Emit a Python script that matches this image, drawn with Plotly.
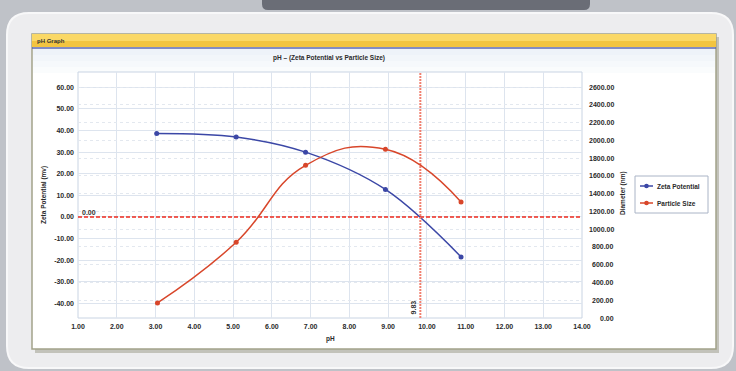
import plotly.graph_objects as go

# ---- data ----
ph_zeta = [3.03, 5.08, 6.87, 8.93, 10.88]
zeta_mv = [38.6, 37.0, 30.0, 12.7, -18.5]
ph_size = [3.05, 5.08, 6.87, 8.93, 10.88]
size_nm = [169, 852, 1719, 1899, 1306]
x_ticks = [1, 2, 3, 4, 5, 6, 7, 8, 9, 10, 11, 12, 13, 14]
left_ticks = [60, 50, 40, 30, 20, 10, 0, -10, -20, -30, -40]
right_ticks = [0, 200, 400, 600, 800, 1000, 1200, 1400, 1600, 1800, 2000, 2200, 2400, 2600]
series_names = ["Zeta Potential", "Particle Size"]
iep_ph = 9.83
zero_line = 0.0

W, H = 736, 371
L, R, T, B = 78, 582, 72, 318
Y1_RANGE = [-46.8, 67.1]
Y2_RANGE = [0, 2769]


def px(x):
    return (x - L) / (R - L)


def py(y):
    return (B - y) / (B - T)


def rrect(x0, y0, x1, y1, r):
    rx = r / (R - L)
    ry = r / (B - T)
    X0, X1, Y0, Y1 = px(x0), px(x1), py(y1), py(y0)
    return (f"M {X0+rx},{Y1} L {X1-rx},{Y1} Q {X1},{Y1} {X1},{Y1-ry} "
            f"L {X1},{Y0+ry} Q {X1},{Y0} {X1-rx},{Y0} L {X0+rx},{Y0} "
            f"Q {X0},{Y0} {X0},{Y0+ry} L {X0},{Y1-ry} Q {X0},{Y1} {X0+rx},{Y1} Z")


BLUE = "#3b47a6"
RED = "#d8462a"
FONT = "Liberation Sans"
TXT = "#2a2a2a"

fig = go.Figure()
fig.add_trace(go.Scatter(
    x=ph_zeta, y=zeta_mv, name=series_names[0], mode="lines+markers",
    line=dict(color=BLUE, width=1.5, shape="spline", smoothing=1.0),
    marker=dict(size=5, color=BLUE), yaxis="y", showlegend=False))
fig.add_trace(go.Scatter(
    x=ph_size, y=size_nm, name=series_names[1], mode="lines+markers",
    line=dict(color=RED, width=1.5, shape="spline", smoothing=1.3),
    marker=dict(size=5, color=RED), yaxis="y2", showlegend=False))

# reference lines
fig.add_trace(go.Scatter(x=[1, 14], y=[zero_line, zero_line], mode="lines",
                         line=dict(color="#ee2a1e", width=1.5, dash="4px,2px"),
                         showlegend=False, hoverinfo="skip", yaxis="y"))
fig.add_trace(go.Scatter(x=[iep_ph, iep_ph], y=Y1_RANGE, mode="lines",
                         line=dict(color="#f08070", width=2, dash="2px,1px"),
                         showlegend=False, hoverinfo="skip", yaxis="y"))

shapes = []
# outer light rounded panel
shapes.append(dict(type="path", xref="paper", yref="paper", path=rrect(7, 13, 733, 368, 22),
                   fillcolor="#ededef", line=dict(color="#f8f8f9", width=2), layer="below"))
# dark blurred shape at top of background
shapes.append(dict(type="path", xref="paper", yref="paper", path=rrect(262, -10, 590, 10, 6),
                   fillcolor="#6a6d76", line=dict(width=0), layer="below"))
# window shadow
shapes.append(dict(type="rect", xref="paper", yref="paper", x0=px(35), x1=px(719), y0=py(353), y1=py(37),
                   fillcolor="#c2c2ba", line=dict(width=0), layer="below"))
# window body
shapes.append(dict(type="rect", xref="paper", yref="paper", x0=px(32), x1=px(716), y0=py(349), y1=py(34),
                   fillcolor="#ffffff", line=dict(color="#a2a28a", width=1.5), layer="below"))
# faint blue tint at top of body
for i, c in enumerate(["#eef3f9", "#f2f6fa", "#f6f9fc", "#fafcfd"]):
    shapes.append(dict(type="rect", xref="paper", yref="paper", x0=px(33), x1=px(715),
                       y0=py(49 + 6 * (i + 1)), y1=py(49 + 6 * i),
                       fillcolor=c, line=dict(width=0), layer="below"))
# title bar
shapes.append(dict(type="rect", xref="paper", yref="paper", x0=px(32), x1=px(716), y0=py(41), y1=py(34),
                   fillcolor="#fad866", line=dict(width=0), layer="below"))
shapes.append(dict(type="rect", xref="paper", yref="paper", x0=px(32), x1=px(716), y0=py(47), y1=py(41),
                   fillcolor="#f2c440", line=dict(width=0), layer="below"))
shapes.append(dict(type="line", xref="paper", yref="paper", x0=px(32), x1=px(716), y0=py(48), y1=py(48),
                   line=dict(color="#5866ae", width=1.5), layer="below"))
# plot area
shapes.append(dict(type="rect", xref="paper", yref="paper", x0=0, x1=1, y0=0, y1=1,
                   fillcolor="#ffffff", line=dict(color="#c9d4e3", width=1), layer="below"))

# manual legend box
LX0, LX1, LY0, LY1 = 635, 708, 176, 213
shapes.append(dict(type="rect", xref="paper", yref="paper", x0=px(LX0), x1=px(LX1), y0=py(LY1), y1=py(LY0),
                   fillcolor="#ffffff", line=dict(color="#aab4c6", width=1), layer="above"))
legend_rows = [(series_names[0], BLUE, 186), (series_names[1], RED, 203)]
annotations = []
for name, col, yy in legend_rows:
    shapes.append(dict(type="line", xref="paper", yref="paper", x0=px(640), x1=px(653),
                       y0=py(yy), y1=py(yy), line=dict(color=col, width=1.5), layer="above"))
    shapes.append(dict(type="circle", xref="paper", yref="paper", x0=px(644.2), x1=px(648.8),
                       y0=py(yy + 2.3), y1=py(yy - 2.3), fillcolor=col, line=dict(width=0), layer="above"))
    annotations.append(dict(text=name, xref="paper", yref="paper", x=px(655), y=py(yy),
                            xanchor="left", yanchor="middle", showarrow=False,
                            font=dict(size=6.5, color=TXT, family=FONT, weight="bold")))

tickfont = dict(size=7, color=TXT, family=FONT, weight="bold")

# right axis tick labels (right-aligned, as in the reference)
for v in right_ticks:
    annotations.append(dict(text=f"{v:.2f}", xref="paper", yref="y2", x=px(616), y=v,
                            xanchor="right", yanchor="middle", showarrow=False, font=tickfont))

annotations += [
    dict(text="pH Graph", xref="paper", yref="paper", x=px(35), y=py(41), xanchor="left",
         yanchor="middle", showarrow=False, font=dict(size=6, color="#333", family=FONT, weight="bold")),
    dict(text="pH – (Zeta Potential vs Particle Size)", xref="paper", yref="paper",
         x=px(329), y=py(58), xanchor="center", yanchor="middle", showarrow=False,
         font=dict(size=6.5, color=TXT, family=FONT, weight="bold")),
    dict(text="0.00", x=1.05, y=zero_line, xref="x", yref="y", xanchor="left", yanchor="bottom",
         showarrow=False, font=dict(size=7, color="#333", family=FONT, weight="bold"), yshift=-1),
    dict(text="9.83", x=iep_ph, y=-42, xref="x", yref="y", xanchor="right", yanchor="middle",
         textangle=-90, showarrow=False, font=dict(size=7, color="#333", family=FONT, weight="bold"),
         xshift=-1),
    dict(text="pH", xref="paper", yref="paper", x=px(330), y=py(339), xanchor="center",
         yanchor="middle", showarrow=False, font=dict(size=6.5, color=TXT, family=FONT, weight="bold")),
    dict(text="Zeta Potential (mv)", xref="paper", yref="paper", x=px(44), y=py(195),
         xanchor="center", yanchor="middle", textangle=-90, showarrow=False,
         font=dict(size=6.5, color=TXT, family=FONT, weight="bold")),
    dict(text="Diameter (nm)", xref="paper", yref="paper", x=px(623), y=py(193),
         xanchor="center", yanchor="middle", textangle=-90, showarrow=False,
         font=dict(size=6.5, color=TXT, family=FONT, weight="bold")),
]

fig.update_layout(
    width=W, height=H,
    margin=dict(l=L, r=W - R, t=T, b=H - B),
    paper_bgcolor="#bfc2c8",
    plot_bgcolor="rgba(0,0,0,0)",
    shapes=shapes,
    annotations=annotations,
    showlegend=False,
    xaxis=dict(range=[1, 14], tickvals=x_ticks, ticktext=[f"{v:.2f}" for v in x_ticks],
               showgrid=True, gridcolor="#dde4ee", gridwidth=1, zeroline=False,
               tickfont=tickfont, ticks="", showline=False, ticklabelstandoff=3),
    yaxis=dict(range=Y1_RANGE, tickvals=left_ticks, ticktext=[f"{v:.2f}" for v in left_ticks],
               showgrid=True, gridcolor="#dde4ee", zeroline=False, tickfont=tickfont, ticks="",
               ticklabelstandoff=3),
    yaxis2=dict(range=Y2_RANGE, tickvals=right_ticks, showticklabels=False,
                overlaying="y", side="right", showgrid=True, gridcolor="#e3e8ef", griddash="dot",
                zeroline=False, ticks=""),
)

fig.write_html("out.html", config={"displayModeBar": False},
               post_script="document.body.style.margin='0';document.body.style.overflow='hidden';")
